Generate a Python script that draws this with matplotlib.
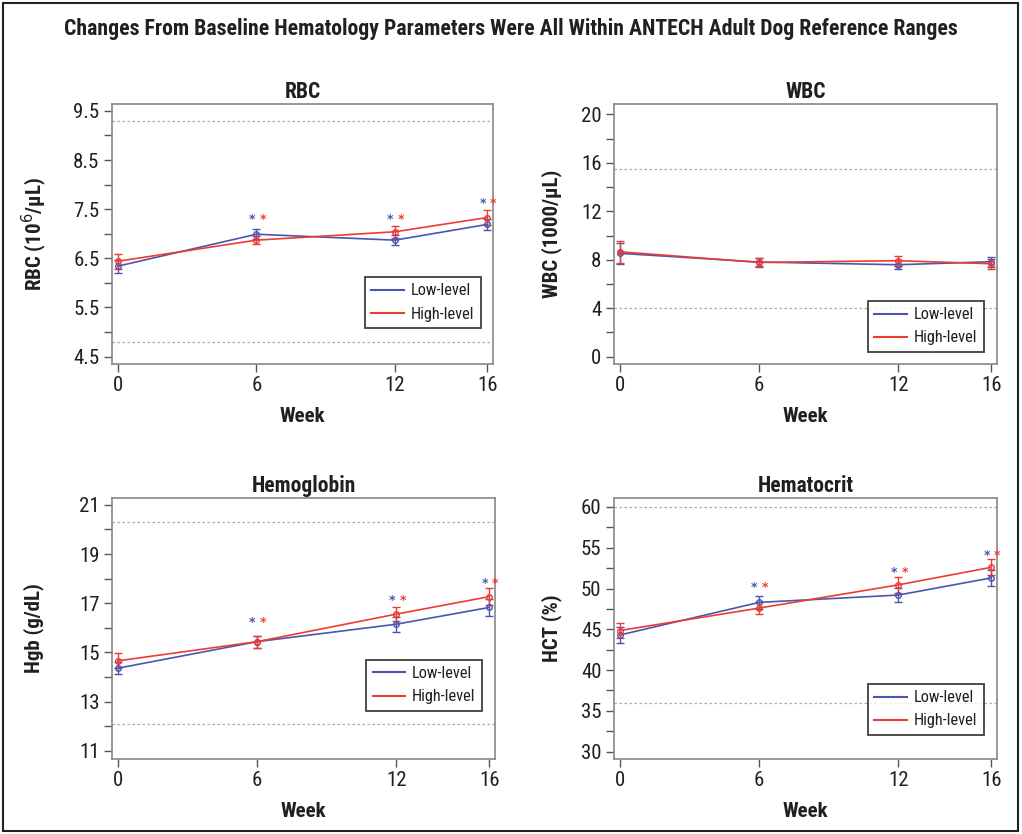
import matplotlib
matplotlib.use("Agg")
import matplotlib.pyplot as plt
from matplotlib.ticker import FixedLocator, AutoMinorLocator
from matplotlib.patches import Rectangle
from matplotlib.lines import Line2D

plt.rcParams['font.family'] = ['Roboto Condensed', 'PT Sans Narrow', 'DejaVu Sans']

weeks = [0, 6, 12, 16]
x_ticks = [0, 6, 12, 16]

rbc_low = [6.34, 6.99, 6.87, 7.19]
rbc_low_err = [0.13, 0.10, 0.10, 0.12]
rbc_high = [6.44, 6.87, 7.04, 7.33]
rbc_high_err = [0.15, 0.08, 0.12, 0.15]
rbc_star = [7.30, 7.30, 7.62]
rbc_ref = [4.8, 9.3]
rbc_ticks = [4.5, 5.5, 6.5, 7.5, 8.5, 9.5]

wbc_low = [8.53, 7.81, 7.59, 7.84]
wbc_low_err = [0.85, 0.35, 0.35, 0.40]
wbc_high = [8.66, 7.78, 7.92, 7.67]
wbc_high_err = [0.90, 0.35, 0.40, 0.40]
wbc_ref = [4.0, 15.5]
wbc_ticks = [0, 4, 8, 12, 16, 20]

hgb_low = [14.36, 15.44, 16.15, 16.83]
hgb_low_err = [0.25, 0.25, 0.30, 0.35]
hgb_high = [14.66, 15.44, 16.56, 17.27]
hgb_high_err = [0.30, 0.25, 0.30, 0.35]
hgb_star = [16.2, 17.1, 17.8]
hgb_ref = [12.1, 20.3]
hgb_ticks = [11, 13, 15, 17, 19, 21]

hct_low = [44.3, 48.3, 49.2, 51.3]
hct_low_err = [1.0, 0.8, 0.9, 1.0]
hct_high = [44.85, 47.6, 50.45, 52.6]
hct_high_err = [0.9, 0.7, 1.0, 1.0]
hct_star = [50.1, 52.0, 54.1]
hct_ref = [36, 60]
hct_ticks = [30, 35, 40, 45, 50, 55, 60]

star_weeks = [6, 12, 16]

BLUE = '#4a55b0'
RED = '#ee3b32'
TXT = '#231f20'

fig = plt.figure(figsize=(10.22, 8.34), dpi=100)
fig.patches.append(Rectangle((3/1022, 3/834), 1015/1022, 828/834, transform=fig.transFigure,
                             fill=False, edgecolor='#222222', linewidth=1.5))
fig.text(0.5, 1 - 29/834, 'Changes From Baseline Hematology Parameters Were All Within ANTECH Adult Dog Reference Ranges',
         ha='center', va='center', fontsize=15.7, fontweight='bold', color=TXT)

panels = [
    dict(pos=[112/1022, 1-364/834, 381/1022, 260/834], title='RBC', ylabel='RBC (10$^{6}$/µL)',
         low=rbc_low, low_err=rbc_low_err, high=rbc_high, high_err=rbc_high_err, star=rbc_star,
         ref=rbc_ref, ticks=rbc_ticks, ylim=(4.35, 9.64), leg=(0.968, 0.138), lab=-0.166),
    dict(pos=[614/1022, 1-364/834, 383/1022, 260/834], title='WBC', ylabel='WBC (1000/µL)',
         low=wbc_low, low_err=wbc_low_err, high=wbc_high, high_err=wbc_high_err, star=None,
         ref=wbc_ref, ticks=wbc_ticks, ylim=(-0.6, 20.85), leg=(0.965, 0.046), lab=-0.136),
    dict(pos=[112/1022, 1-759/834, 383/1022, 261/834], title='Hemoglobin', ylabel='Hgb (g/dL)',
         low=hgb_low, low_err=hgb_low_err, high=hgb_high, high_err=hgb_high_err, star=hgb_star,
         ref=hgb_ref, ticks=hgb_ticks, ylim=(10.67, 21.28), leg=(0.966, 0.184), lab=-0.178),
    dict(pos=[614/1022, 1-759/834, 383/1022, 261/834], title='Hematocrit', ylabel='HCT (%)',
         low=hct_low, low_err=hct_low_err, high=hct_high, high_err=hct_high_err, star=hct_star,
         ref=hct_ref, ticks=hct_ticks, ylim=(29.1, 61.1), leg=(0.965, 0.092), lab=-0.136),
]

for p in panels:
    ax = fig.add_axes(p['pos'])
    for r in p['ref']:
        ax.axhline(r, color='#aaaaaa', linestyle=(0, (2, 2)), linewidth=0.9, zorder=1)
    ax.errorbar(weeks, p['low'], yerr=p['low_err'], color=BLUE, marker='o', markersize=4,
                markerfacecolor='none', markeredgewidth=1.0, linewidth=1.2, capsize=3,
                elinewidth=1.0, capthick=1.0, zorder=3)
    ax.errorbar(weeks, p['high'], yerr=p['high_err'], color=RED, marker='o', markersize=4,
                markerfacecolor='none', markeredgewidth=1.0, linewidth=1.2, capsize=3,
                elinewidth=1.0, capthick=1.0, zorder=3)
    if p['star'] is not None:
        for w, s in zip(star_weeks, p['star']):
            ax.text(w - 0.2, s, '*', color=BLUE, ha='center', va='center', fontsize=9,
                    fontweight='bold', clip_on=False, family='DejaVu Sans')
            ax.text(w + 0.27, s, '*', color=RED, ha='center', va='center', fontsize=9,
                    fontweight='bold', clip_on=False, family='DejaVu Sans')
    ax.set_xlim(-0.25, 16.25)
    ax.set_ylim(*p['ylim'])
    ax.xaxis.set_major_locator(FixedLocator(x_ticks))
    ax.yaxis.set_major_locator(FixedLocator(p['ticks']))
    ax.yaxis.set_minor_locator(AutoMinorLocator(2))
    ax.set_yticklabels([('%g' % t) for t in p['ticks']])
    ax.set_xticklabels([str(t) for t in x_ticks])
    ax.tick_params(axis='both', which='major', labelsize=15, length=6, width=1.0,
                   color='#555555', labelcolor=TXT, pad=3)
    ax.tick_params(axis='y', which='minor', length=6, width=1.0, color='#555555')
    for sp in ax.spines.values():
        sp.set_color('#888888')
        sp.set_linewidth(1.2)
    ax.set_title(p['title'], fontsize=15.5, fontweight='bold', color=TXT, pad=4)
    ax.set_ylabel(p['ylabel'], fontsize=15, fontweight='bold', color=TXT)
    ax.yaxis.set_label_coords(p['lab'], 0.5)
    ax.set_xlabel('Week', fontsize=15, fontweight='bold', color=TXT, labelpad=8)
    handles = [Line2D([], [], color=BLUE, linewidth=1.5), Line2D([], [], color=RED, linewidth=1.5)]
    leg = ax.legend(handles, ['Low-level', 'High-level'], loc='lower right', bbox_to_anchor=p['leg'],
                    borderaxespad=0, fontsize=11.8, frameon=True, fancybox=False, handlelength=2.0,
                    borderpad=0.4, labelspacing=0.5, handletextpad=0.4)
    leg.get_frame().set_edgecolor('#111111')
    leg.get_frame().set_linewidth(1.3)
    for t in leg.get_texts():
        t.set_color(TXT)

fig.savefig('out.png', dpi=100)
